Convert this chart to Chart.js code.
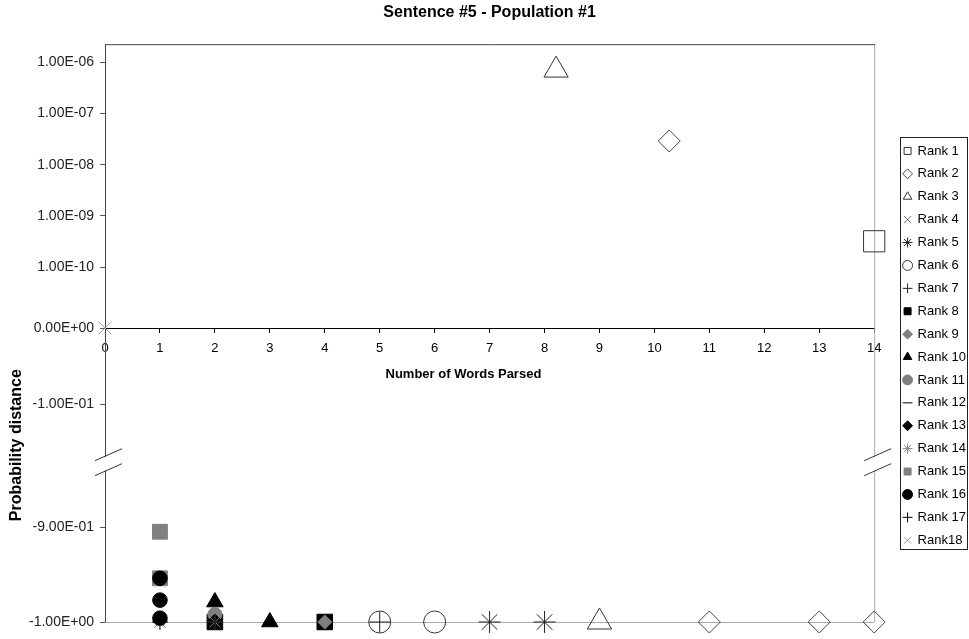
<!DOCTYPE html>
<html>
<head>
<meta charset="utf-8">
<script src="https://cdn.jsdelivr.net/npm/chart.js@4.4.0/dist/chart.umd.min.js"></script>
<style>
  html, body { margin: 0; padding: 0; background: #fff; }
  #chart { display: block; }
</style>
</head>
<body>
<canvas id="chart" width="969" height="639"></canvas>
<script>
// values, [x, y] per point
const rankNames = ['Rank 1', 'Rank 2', 'Rank 3', 'Rank 4', 'Rank 5', 'Rank 6', 'Rank 7', 'Rank 8', 'Rank 9',
    'Rank 10', 'Rank 11', 'Rank 12', 'Rank 13', 'Rank 14', 'Rank 15', 'Rank 16', 'Rank 17', 'Rank18'];
const rank1 = [[14, 3.2e-10]];
const rank2 = [[10.27, 2.9e-8], [11, -1], [13, -1], [14, -1]];
const rank3 = [[8.21, 7e-7], [9, -1]];
const rank4 = [[1, -1]];
const rank5 = [[7, -1], [8, -1]];
const rank6 = [[5, -1], [6, -1]];
const rank7 = [[5, -1]];
const rank8 = [[4, -1], [2, -1]];
const rank9 = [[4, -1]];
const rank10 = [[2, -0.979], [3, -1]];
const rank11 = [[2, -0.992]];
const rank12 = [[2, -1]];
const rank13 = [[2, -1]];
const rank14 = [[2, -1]];
const rank15 = [[1, -0.905], [1, -0.954]];
const rank16 = [[1, -0.954], [1, -0.977], [1, -0.996]];
const rank17 = [[1, -1], [2, -1]];
const rank18 = [[0, 0]];
const rankData = [rank1, rank2, rank3, rank4, rank5, rank6, rank7, rank8, rank9,
    rank10, rank11, rank12, rank13, rank14, rank15, rank16, rank17, rank18];

const yTickValues = [1e-6, 1e-7, 1e-8, 1e-9, 1e-10, 0, -0.1, -0.9, -1];
const xMin = 0, xMax = 14;

// marker styles
const rankStyle = ['rect', 'rectRot', 'triangle', 'crossRot', 'star', 'circle', 'cross', 'rect', 'rectRot',
    'triangle', 'circle', 'line', 'rectRot', 'star', 'rect', 'circle', 'cross', 'crossRot'];
const rankFill = ['transparent', 'transparent', 'transparent', 'transparent', 'transparent', 'transparent', 'transparent',
    '#000', '#808080', '#000', '#808080', '#000', '#000', '#808080', '#808080', '#000', '#000', '#999'];
const rankLine = ['#333', '#444', '#333', '#666', '#222', '#333', '#222', '#000', '#808080',
    '#000', '#808080', '#000', '#000', '#808080', '#808080', '#000', '#000', '#999'];
const rankRadius = [15, 11, 14, 8, 11, 11, 10.5, 11, 7, 9.5, 7, 7, 8, 8, 10.5, 7.3, 8, 9];

Chart.defaults.font.family = '"Liberation Sans", Arial, sans-serif';
Chart.defaults.color = '#000';

// broken y axis: log part above zero, linear part below, with a gap between -0.1 and -0.9
const logTopExp = -6, logTopFrac = 0.0311, decadeFrac = 0.0887;
const linAnchors = [[0, 0.4913], [-0.1, 0.6228], [-0.9, 0.8356], [-1, 1]];
const breakFrac = 0.726;

function fracForValue(v) {
    if (v > 0) return logTopFrac + (logTopExp - Math.log10(v)) * decadeFrac;
    for (let i = 1; i < linAnchors.length; i++) {
        const [v0, f0] = linAnchors[i - 1], [v1, f1] = linAnchors[i];
        if (v >= v1 || i === linAnchors.length - 1) {
            return f0 + (v - v0) / (v1 - v0) * (f1 - f0);
        }
    }
    return 1;
}

class BrokenScale extends Chart.LinearScale {
    determineDataLimits() {
        this.min = Math.min(...yTickValues);
        this.max = Math.max(...yTickValues);
    }
    buildTicks() {
        this.start = this.min;
        this.end = this.max;
        return yTickValues.map(v => ({ value: v }));
    }
    getPixelForValue(v) {
        return this.top + (this.bottom - this.top) * fracForValue(v);
    }
    getValueForPixel(p) {
        const f = (p - this.top) / (this.bottom - this.top);
        if (f < linAnchors[0][1]) return Math.pow(10, logTopExp - (f - logTopFrac) / decadeFrac);
        for (let i = 1; i < linAnchors.length; i++) {
            const [v0, f0] = linAnchors[i - 1], [v1, f1] = linAnchors[i];
            if (f <= f1 || i === linAnchors.length - 1) return v0 + (f - f0) / (f1 - f0) * (v1 - v0);
        }
        return -1;
    }
}
BrokenScale.id = 'broken';
BrokenScale.defaults = Chart.LinearScale.defaults;
Chart.register(BrokenScale);

function sci(v) {
    if (v === 0) return '0.00E+00';
    const e = Math.floor(Math.log10(Math.abs(v)) + 1e-9);
    const m = v / Math.pow(10, e);
    return m.toFixed(2) + 'E' + (e < 0 ? '-' : '+') + String(Math.abs(e)).padStart(2, '0');
}

const datasets = rankData.map((pts, i) => ({
    label: rankNames[i],
    data: pts.map(p => ({ x: p[0], y: p[1] })),
    pointStyle: rankStyle[i],
    backgroundColor: rankFill[i],
    borderColor: rankLine[i],
    borderWidth: 1,
    pointRadius: rankRadius[i],
    pointHoverRadius: rankRadius[i],
    showLine: false,
    clip: false,
    order: rankData.length - i
}));

// frame, axis gap and break marks
const framePlugin = {
    id: 'frame',
    beforeDatasetsDraw(chart) {
        const { ctx, chartArea: { left, right, top, bottom } } = chart;
        const gapY = top + (bottom - top) * breakFrac;
        const seg = (x1, y1, x2, y2) => { ctx.beginPath(); ctx.moveTo(x1, y1); ctx.lineTo(x2, y2); ctx.stroke(); };
        ctx.save();
        ctx.lineWidth = 1;
        ctx.strokeStyle = '#aaa';
        seg(right + 0.5, top, right + 0.5, gapY - 7);
        seg(right + 0.5, gapY + 7, right + 0.5, bottom);
        seg(left, bottom + 0.5, right, bottom + 0.5);
        ctx.strokeStyle = '#444';
        seg(left, top + 0.5, right + 1, top + 0.5);
        seg(left + 0.5, top, left + 0.5, gapY - 7);
        seg(left + 0.5, gapY + 7, left + 0.5, bottom);
        ctx.strokeStyle = '#333';
        [left, right].forEach(x0 => {
            seg(x0 - 10, gapY - 3, x0 + 17, gapY - 15);
            seg(x0 - 10, gapY + 12, x0 + 17, gapY);
        });
        ctx.restore();
    },
    afterDraw(chart) {
        const { ctx, chartArea: { left, right, top, bottom } } = chart;
        const zeroY = chart.scales.y.getPixelForValue(0);
        ctx.save();
        ctx.fillStyle = '#000';
        ctx.textAlign = 'center';
        ctx.textBaseline = 'middle';
        ctx.font = 'bold 13px "Liberation Sans", Arial, sans-serif';
        ctx.fillText('Number of Words Parsed', left + (right - left) * 0.466, zeroY + 46);
        ctx.font = 'bold 16px "Liberation Sans", Arial, sans-serif';
        ctx.translate(left - 88, top + (bottom - top) * 0.694);
        ctx.rotate(-Math.PI / 2);
        ctx.fillText('Probability distance', 0, 0);
        ctx.restore();

        // legend box
        const hb = chart.legend.legendHitBoxes;
        if (hb && hb.length) {
            const last = hb[hb.length - 1];
            const x1 = Math.round(hb[0].left - 4) + 0.5;
            const y1 = Math.round(hb[0].top - 7) + 0.5;
            const x2 = chart.width - 1.5;
            const y2 = Math.round(last.top + last.height + 2) + 0.5;
            ctx.save();
            ctx.strokeStyle = '#222';
            ctx.lineWidth = 1;
            ctx.strokeRect(x1, y1, x2 - x1, y2 - y1);
            ctx.restore();
        }
    }
};

new Chart(document.getElementById('chart').getContext('2d'), {
    type: 'scatter',
    data: { datasets: datasets },
    options: {
        responsive: false,
        animation: false,
        layout: { padding: { left: 20, right: -7, top: 0, bottom: 17 } },
        plugins: {
            title: {
                display: true,
                fullSize: false,
                text: 'Sentence #5 - Population #1',
                font: { size: 16, weight: 'bold' },
                padding: { top: 3, bottom: 22 }
            },
            legend: {
                position: 'right',
                fullSize: false,
                title: { display: true, text: '', font: { size: 10 }, padding: { top: 13, bottom: 0 } },
                labels: {
                    usePointStyle: true,
                    boxWidth: 7,
                    boxHeight: 7,
                    padding: 9.9,
                    font: { size: 13 },
                    color: '#000',
                    sort: (a, b) => a.datasetIndex - b.datasetIndex
                }
            },
            tooltip: { enabled: false }
        },
        scales: {
            x: {
                type: 'linear',
                position: { y: 0 },
                min: xMin,
                max: xMax,
                ticks: { stepSize: 1, autoSkip: false, padding: 9, font: { size: 13 }, color: '#000' },
                grid: { drawOnChartArea: false, tickLength: 4, color: '#000' },
                border: { display: true, color: '#000' }
            },
            y: {
                type: 'broken',
                position: 'left',
                afterFit: (scale) => { scale.width = 85; },
                ticks: { autoSkip: false, padding: 6, font: { size: 14 }, color: '#222', callback: (v) => sci(v) },
                grid: { drawOnChartArea: false, tickLength: 5, color: '#555' },
                border: { display: false }
            },
            yR: {
                type: 'linear',
                position: 'right',
                afterFit: (scale) => { scale.width = 20; },
                ticks: { display: false },
                grid: { display: false },
                border: { display: false }
            }
        }
    },
    plugins: [framePlugin]
});
</script>
</body>
</html>
